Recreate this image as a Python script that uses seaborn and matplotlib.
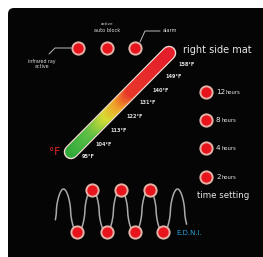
import numpy as np
import pandas as pd
import matplotlib
matplotlib.use("Agg")
import matplotlib.pyplot as plt
from matplotlib.patches import FancyBboxPatch
from matplotlib.colors import LinearSegmentedColormap
import seaborn as sns

# temperature scale labels along the bar (pixel positions in the panel)
temp_labels = ["158°F", "149°F", "140°F", "131°F", "122°F", "113°F", "104°F", "95°F"]
temp_x = [187, 174, 161, 148, 135, 119, 104, 88]
temp_y = [64, 77, 90, 103, 116, 130, 144, 157]

# timer buttons on the right
timer_hours = ["12", "8", "4", "2"]
timer_y = [92, 120, 148, 177]
timer_x = 206

# top buttons
top_names = ["infrared ray\nactive", "auto block", "alarm"]
top_x = [78, 107, 135]
top_y = 48

# massage wave buttons
wave_top_x = [92, 121, 150]
wave_bot_x = [77, 107, 135, 163]
wave_peaks = [63.5, 92, 121, 150, 178.5]

sns.set_theme(style="white")
plt.rcParams['font.family'] = ['DejaVu Sans']

fig = plt.figure(figsize=(2.63, 2.57), dpi=100)
ax = fig.add_axes([0, 0, 1, 1])
ax.set_xlim(0, 263)
ax.set_ylim(257, 0)
ax.axis('off')
fig.patch.set_facecolor('white')

# black panel
panel = FancyBboxPatch((8, 8), 270, 270, boxstyle="round,pad=0,rounding_size=6",
                       facecolor='#050505', edgecolor='none', zorder=0)
ax.add_patch(panel)

# gradient temperature bar
x0, y0, x1, y1 = 71, 152, 169, 53
cmap = LinearSegmentedColormap.from_list("heat", [
    (0, '#2da83a'), (0.22, '#5fc046'), (0.38, '#d8dc34'),
    (0.5, '#f0a02a'), (0.62, '#e8382a'), (1, '#e41e2a')])
ax.plot([x0, x1], [y0, y1], color='#f2d8d0', lw=10.5, solid_capstyle='round', zorder=2)
t = np.linspace(0, 1, 120)
for a, b in zip(t[:-1], t[1:]):
    ax.plot([x0 + (x1 - x0) * a, x0 + (x1 - x0) * b],
            [y0 + (y1 - y0) * a, y0 + (y1 - y0) * b],
            color=cmap((a + b) / 2), lw=8.5, solid_capstyle='round', zorder=3)

for lab, tx, ty in zip(temp_labels, temp_x, temp_y):
    ax.text(tx, ty, lab, color='#dddddd', fontsize=3.6, fontweight='bold',
            ha='center', va='center', zorder=4)
ax.text(55, 152, "°F", color='#e8262a', fontsize=7.5, ha='center', va='center')
ax.text(183, 50, "right side mat", color='#e6e6e6', fontsize=7, ha='left', va='center')

# wave line
period = wave_peaks[1] - wave_peaks[0]
wx = np.linspace(wave_peaks[0] - period / 4 - 1, wave_peaks[-1] + period / 4 + 1, 600)
c = np.cos(2 * np.pi * (wx - wave_peaks[0]) / period)
wy = 211 - 22 * np.sign(c) * np.abs(c) ** 0.6
sns.lineplot(x=wx, y=wy, color='#aaaaaa', lw=1.1, sort=False, ax=ax, zorder=2)

# buttons
btn = pd.DataFrame({
    "x": top_x + [timer_x] * len(timer_y) + wave_top_x + wave_bot_x,
    "y": [top_y] * 3 + timer_y + [190] * len(wave_top_x) + [232] * len(wave_bot_x),
})
sns.scatterplot(data=btn, x="x", y="y", s=78, color='#e8141c',
                edgecolor='#e3b2a8', linewidth=1.4, ax=ax, zorder=5, legend=False)

# timer labels
for h, ty in zip(timer_hours, timer_y):
    ax.text(timer_x + 10, ty, h, color='#e6e6e6', fontsize=5.2, ha='left', va='center')
    ax.text(timer_x + 10 + 4.2 * len(h) + 1.0, ty + 0.5, "hours", color='#e6e6e6',
            fontsize=3.8, ha='left', va='center')
ax.text(197, 195, "time setting", color='#e6e6e6', fontsize=6.2, ha='left', va='center')
ax.text(176, 233, "E.D.N.I.", color='#2aa0d8', fontsize=5, ha='left', va='center')

# top labels with leader lines
ax.plot([71, 55, 49], [48, 48, 54], color='#bbbbbb', lw=0.7, zorder=2)
ax.text(42, 64, top_names[0], color='#dddddd', fontsize=3.4, ha='center', va='center',
        linespacing=1.1)
ax.text(107, 24, "active", color='#dddddd', fontsize=3.0, ha='center', va='center')
ax.text(107, 30, top_names[1], color='#dddddd', fontsize=3.6, ha='center', va='center')
ax.plot([140, 145, 160], [42, 31, 31], color='#bbbbbb', lw=0.7, zorder=2)
ax.text(163, 31, top_names[2], color='#dddddd', fontsize=3.6, ha='left', va='center')

ax.set_xlabel("")
ax.set_ylabel("")
fig.savefig("out.png", dpi=100, facecolor='white')
